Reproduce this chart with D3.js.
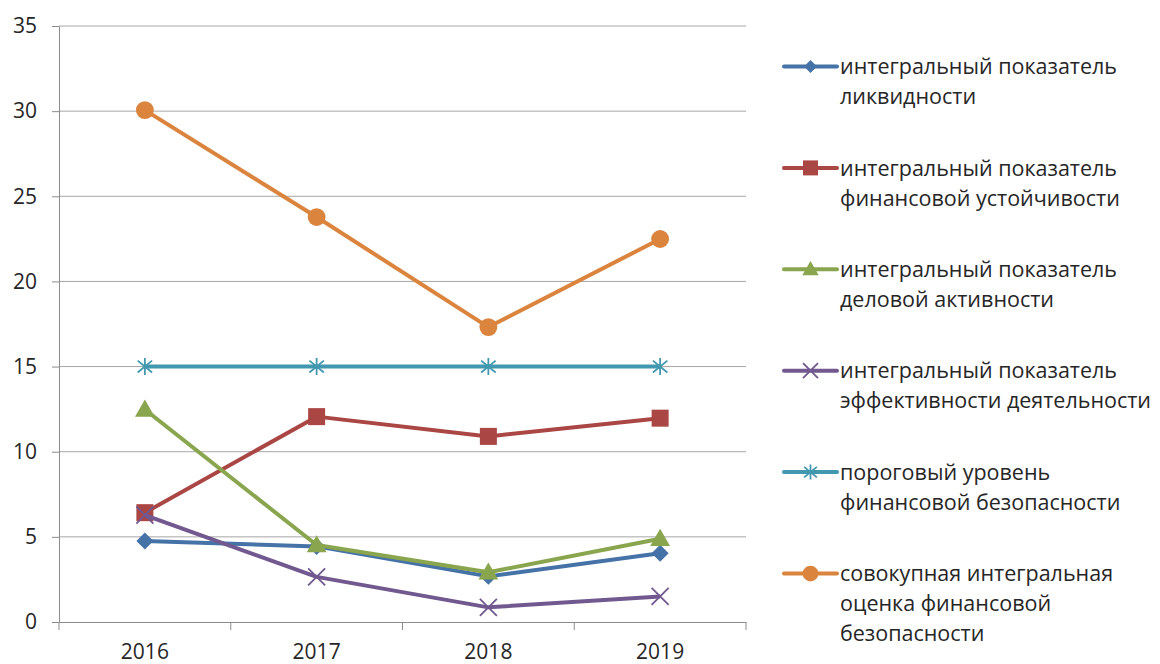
<!DOCTYPE html>
<html>
<head>
<meta charset="utf-8">
<script src="https://cdn.jsdelivr.net/npm/d3@7"></script>
<style>
  body { margin: 0; background: #fff; }
  svg { display: block; font-family: "Open Sans", "Noto Sans", sans-serif; }
</style>
</head>
<body>
<div id="chart"></div>
<script>
// years on the category axis
const years = ["2016", "2017", "2018", "2019"];
const yTicks = [0, 5, 10, 15, 20, 25, 30, 35];

// series values
const liquidity = [4.76, 4.44, 2.68, 4.04];
const stability = [6.42, 12.06, 10.9, 11.97];
const activity = [12.48, 4.52, 2.92, 4.89];
const efficiency = [6.28, 2.65, 0.86, 1.5];
const threshold = [15, 15, 15, 15];
const total = [30.06, 23.78, 17.32, 22.49];

const seriesNames = [
  ["интегральный показатель", "ликвидности"],
  ["интегральный показатель", "финансовой устойчивости"],
  ["интегральный показатель", "деловой активности"],
  ["интегральный показатель", "эффективности деятельности"],
  ["пороговый уровень", "финансовой безопасности"],
  ["совокупная интегральная", "оценка финансовой", "безопасности"]
];
const seriesValues = [liquidity, stability, activity, efficiency, threshold, total];
const seriesColors = ["#4572A7", "#AA4643", "#89A54E", "#71588F", "#4198AF", "#DB843D"];
const seriesMarkers = ["diamond", "square", "triangle", "x", "star", "circle"];

const W = 1160, H = 664;
const m = { left: 59, top: 26, right: 746, bottom: 622 };

const svg = d3.select("#chart").append("svg")
  .attr("width", W).attr("height", H);

const x = d3.scaleBand().domain(years).range([m.left, m.right]).padding(0);
const y = d3.scaleLinear().domain([0, 35]).range([m.bottom, m.top]);

// gridlines
svg.append("g")
  .selectAll("line")
  .data(yTicks.filter(d => d > 0))
  .join("line")
  .attr("x1", m.left).attr("x2", m.right)
  .attr("y1", d => y(d)).attr("y2", d => y(d))
  .attr("stroke", "#a6a6a6").attr("stroke-width", 1);

// y axis
const yAxis = svg.append("g")
  .attr("transform", `translate(${m.left},0)`)
  .call(d3.axisLeft(y).tickValues(yTicks).tickSize(7).tickPadding(15).tickSizeOuter(0));
yAxis.select(".domain").attr("stroke", "#8c8c8c");
yAxis.selectAll(".tick line").attr("stroke", "#8c8c8c");
yAxis.selectAll("text").attr("font-size", 21).attr("fill", "#262626")
  .attr("font-family", "Open Sans");

// x axis
const xAxis = svg.append("g")
  .attr("transform", `translate(0,${m.bottom})`)
  .call(d3.axisBottom(x).tickSize(0).tickPadding(22).tickSizeOuter(0));
xAxis.select(".domain").attr("stroke", "#8c8c8c");
xAxis.selectAll("text").attr("font-size", 21).attr("fill", "#262626")
  .attr("font-family", "Open Sans");
// boundary tick marks between categories
xAxis.selectAll("line.bound")
  .data(d3.range(years.length + 1))
  .join("line")
  .attr("class", "bound")
  .attr("x1", i => m.left + i * x.step()).attr("x2", i => m.left + i * x.step())
  .attr("y1", 0).attr("y2", 8)
  .attr("stroke", "#8c8c8c");

// marker drawing
function marker(g, type, color, s) {
  if (type === "diamond") {
    g.append("path").attr("d", `M0,${-s}L${s},0L0,${s}L${-s},0Z`).attr("fill", color);
  } else if (type === "square") {
    g.append("rect").attr("x", -s).attr("y", -s).attr("width", 2 * s).attr("height", 2 * s).attr("fill", color);
  } else if (type === "triangle") {
    g.append("path").attr("d", `M0,${-s * 1.1}L${s * 1.1},${s * 0.8}L${-s * 1.1},${s * 0.8}Z`).attr("fill", color);
  } else if (type === "circle") {
    g.append("circle").attr("r", s * 1.05).attr("fill", color);
  } else if (type === "x") {
    g.append("path").attr("d", `M${-s},${-s}L${s},${s}M${-s},${s}L${s},${-s}`)
      .attr("stroke", color).attr("stroke-width", 1.8).attr("fill", "none");
  } else if (type === "star") {
    g.append("path").attr("d", `M0,${-s}L0,${s}M${-s * 0.85},${-s * 0.7}L${s * 0.85},${s * 0.7}M${-s * 0.85},${s * 0.7}L${s * 0.85},${-s * 0.7}`)
      .attr("stroke", color).attr("stroke-width", 1.8).attr("fill", "none");
  }
}

const line = d3.line()
  .x((d, i) => x(years[i]) + x.bandwidth() / 2)
  .y(d => y(d));

const markerSize = [8.5, 8.5, 9, 8.5, 8.5, 8.5];

seriesValues.forEach((vals, k) => {
  const g = svg.append("g");
  g.append("path").datum(vals)
    .attr("d", line)
    .attr("fill", "none")
    .attr("stroke", seriesColors[k])
    .attr("stroke-width", 4)
    .attr("stroke-linejoin", "round");
  vals.forEach((v, i) => {
    const mg = g.append("g")
      .attr("transform", `translate(${x(years[i]) + x.bandwidth() / 2},${y(v)})`);
    marker(mg, seriesMarkers[k], seriesColors[k], markerSize[k]);
  });
});

// legend
const legendY0 = 66.5, legendStep = 101.4, lineH = 30;
const legend = svg.append("g");
seriesNames.forEach((lines, k) => {
  const cy = legendY0 + k * legendStep;
  const g = legend.append("g");
  g.append("line")
    .attr("x1", 784).attr("x2", 837).attr("y1", cy).attr("y2", cy)
    .attr("stroke", seriesColors[k]).attr("stroke-width", 4).attr("stroke-linecap", "round");
  const mg = g.append("g").attr("transform", `translate(810.5,${cy})`);
  marker(mg, seriesMarkers[k], seriesColors[k], seriesMarkers[k] === "diamond" ? 6.5 : 7.5);
  g.selectAll("text")
    .data(lines)
    .join("text")
    .attr("x", 840)
    .attr("y", (d, i) => cy + i * lineH)
    .attr("dy", "0.36em")
    .attr("font-size", 21.5)
    .attr("fill", "#262626")
    .text(d => d);
});
</script>
</body>
</html>
